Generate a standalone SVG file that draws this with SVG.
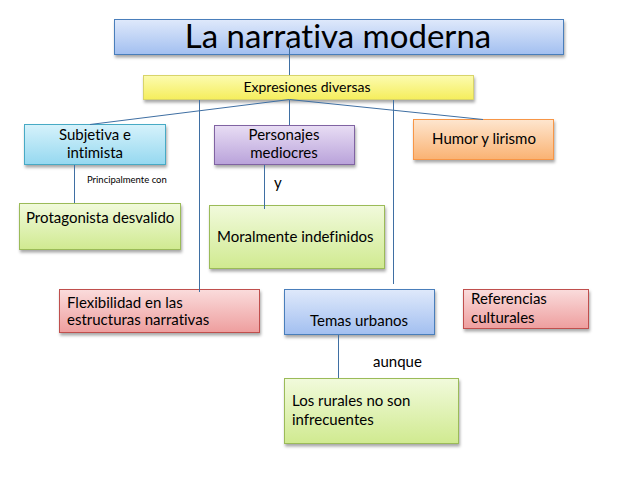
<svg xmlns="http://www.w3.org/2000/svg" width="638" height="479" viewBox="0 0 638 479">
<style>
text{font-family:Lato,"Open Sans","Liberation Sans",sans-serif;fill:#000;font-variant-ligatures:none}
.b{font-size:15px}
.c{text-anchor:middle}
.conn line{stroke:#3f6fa3;stroke-width:1}
rect{filter:url(#sh)}
</style>
<defs>
<filter id="sh" x="-10%" y="-20%" width="125%" height="150%"><feDropShadow dx="1" dy="2.5" stdDeviation="1.5" flood-color="#000" flood-opacity="0.35"/></filter>
<linearGradient id="gBlue" x1="0" y1="0" x2="0" y2="1"><stop offset="0" stop-color="#dfe9fb"/><stop offset="1" stop-color="#a2bff0"/></linearGradient>
<linearGradient id="gYel" x1="0" y1="0" x2="0" y2="1"><stop offset="0" stop-color="#fcfbb0"/><stop offset="1" stop-color="#f5ee5c"/></linearGradient>
<linearGradient id="gCyan" x1="0" y1="0" x2="0" y2="1"><stop offset="0" stop-color="#d6f2fb"/><stop offset="1" stop-color="#95d8f0"/></linearGradient>
<linearGradient id="gPur" x1="0" y1="0" x2="0" y2="1"><stop offset="0" stop-color="#e8ddf4"/><stop offset="1" stop-color="#b9a2da"/></linearGradient>
<linearGradient id="gOra" x1="0" y1="0" x2="0" y2="1"><stop offset="0" stop-color="#fee6cf"/><stop offset="1" stop-color="#fab272"/></linearGradient>
<linearGradient id="gGrn" x1="0" y1="0" x2="0" y2="1"><stop offset="0" stop-color="#f1fadc"/><stop offset="1" stop-color="#d0ea90"/></linearGradient>
<linearGradient id="gRed" x1="0" y1="0" x2="0" y2="1"><stop offset="0" stop-color="#fadcdc"/><stop offset="1" stop-color="#ee9e9e"/></linearGradient>
</defs>
<rect width="638" height="479" fill="#fff" style="filter:none"/>

<g id="n-title"><rect x="114.5" y="19.5" width="449" height="35" fill="url(#gBlue)" stroke="#4a7ebb"/><text x="338" y="48" class="c" font-size="33">La narrativa moderna</text></g>
<g id="n-expr"><rect x="143.5" y="75.5" width="330" height="24" fill="url(#gYel)" stroke="#d8d46a"/><text x="307" y="92" class="c" font-size="14">Expresiones diversas</text></g>
<g id="n-subj"><rect x="24.5" y="124.5" width="141" height="40" fill="url(#gCyan)" stroke="#46aac5"/><text x="95" y="140" class="b c">Subjetiva e</text><text x="95" y="158" class="b c">intimista</text></g>
<g id="n-pers"><rect x="214.5" y="125.5" width="140" height="39" fill="url(#gPur)" stroke="#8064a2"/><text x="284" y="140" class="b c">Personajes</text><text x="284" y="158" class="b c">mediocres</text></g>
<g id="n-humor"><rect x="413.5" y="119.5" width="140" height="40" fill="url(#gOra)" stroke="#f79646"/><text x="484" y="144" class="b c">Humor y lirismo</text></g>
<g id="n-prot"><rect x="19.5" y="203.5" width="161" height="46" fill="url(#gGrn)" stroke="#9bbb59"/><text x="26" y="223" class="b">Protagonista desvalido</text></g>
<g id="n-moral"><rect x="209.5" y="205.5" width="175" height="63" fill="url(#gGrn)" stroke="#9bbb59"/><text x="217" y="242" class="b">Moralmente indefinidos</text></g>
<g id="n-flex"><rect x="59.5" y="289.5" width="200" height="43" fill="url(#gRed)" stroke="#c0504d"/><text x="67" y="308" class="b">Flexibilidad en las</text><text x="67" y="325" class="b">estructuras narrativas</text></g>
<g id="n-temas"><rect x="284.5" y="289.5" width="150" height="45" fill="url(#gBlue)" stroke="#4a7ebb"/><text x="359" y="326" class="b c">Temas urbanos</text></g>
<g id="n-ref"><rect x="463.5" y="289.5" width="125" height="39" fill="url(#gRed)" stroke="#c0504d"/><text x="471" y="304" class="b">Referencias</text><text x="471" y="323" class="b">culturales</text></g>
<g id="n-rur"><rect x="284.5" y="378.5" width="174" height="65" fill="url(#gGrn)" stroke="#9bbb59"/><text x="292" y="406" class="b">Los rurales no son</text><text x="292" y="425" class="b">infrecuentes</text></g>

<g id="connectors" class="conn">
<line x1="289.5" y1="44" x2="289.5" y2="75"/>
<line x1="289.5" y1="99.5" x2="90" y2="124.5"/>
<line x1="289.5" y1="100" x2="289.5" y2="125"/>
<line x1="289.5" y1="99.5" x2="483" y2="119.5"/>
<line x1="199.5" y1="100" x2="199.5" y2="292"/>
<line x1="393.5" y1="100" x2="393.5" y2="284"/>
<line x1="74.5" y1="165" x2="74.5" y2="203"/>
<line x1="264.5" y1="165" x2="264.5" y2="209"/>
<line x1="338.5" y1="335" x2="338.5" y2="378"/>
</g>
<g id="labels">
<text x="87" y="183" font-size="9.5">Principalmente con</text>
<text x="274" y="188" class="b">y</text>
<text x="373" y="367" class="b">aunque</text>
</g>
</svg>
